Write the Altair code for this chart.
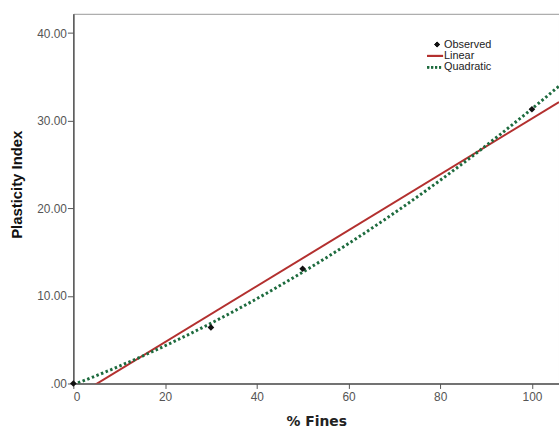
import altair as alt
import pandas as pd

fines = [0, 30, 50, 100]
pi = [0.0, 6.4, 13.1, 31.3]
legend_labels = ["Observed", "Linear", "Quadratic"]

df = pd.DataFrame({"fines": fines, "pi": pi})

X_DOM = [0, 105.9]
Y_DOM = [0, 42.2]

xs = alt.Scale(domain=X_DOM, nice=False, zero=False)
ys = alt.Scale(domain=Y_DOM, nice=False, zero=False)

xaxis = alt.Axis(values=[0, 20, 40, 60, 80, 100], title="% Fines", grid=False,
                 labelFont="Liberation Sans", labelFontSize=12, labelColor="#555",
                 titleFont="DejaVu Sans", titleFontSize=14, titleFontWeight="bold",
                 titleColor="#222", titleY=42, titleBaseline="alphabetic",
                 domainColor="#555", domainWidth=1.5,
                 tickColor="#555", tickSize=5, labelPadding=3)
yaxis = alt.Axis(values=[0, 10, 20, 30, 40], title="Plasticity Index", grid=False,
                 labelExpr="datum.value == 0 ? '.00' : format(datum.value, '.2f')",
                 labelFont="Liberation Sans", labelFontSize=12, labelColor="#555",
                 titleFont="Liberation Sans", titleFontSize=15, titleFontWeight="bold",
                 titleColor="#111", titleX=-52, titleY=172, titleAngle=-90,
                 titleBaseline="alphabetic",
                 domainColor="#555", domainWidth=1.5, tickColor="#555", tickSize=6,
                 labelPadding=1)

base = alt.Chart(df)

linear = base.transform_regression("fines", "pi", method="linear", extent=X_DOM).mark_line(
    color="#b3302f", strokeWidth=2, clip=True
).encode(x=alt.X("fines:Q", scale=xs, axis=xaxis), y=alt.Y("pi:Q", scale=ys, axis=yaxis))

quad = base.transform_regression("fines", "pi", method="poly", order=2, extent=X_DOM).mark_line(
    color="#1d6b3e", strokeWidth=3, strokeDash=[2.5, 2.5], clip=True
).encode(x=alt.X("fines:Q", scale=xs), y=alt.Y("pi:Q", scale=ys))

pts = base.mark_point(shape="diamond", filled=True, color="#111", size=45, opacity=1).encode(
    x=alt.X("fines:Q", scale=xs), y=alt.Y("pi:Q", scale=ys)
)

leg_df = pd.DataFrame({"label": legend_labels})
leg_text = alt.Chart(leg_df).transform_window(i="row_number()").transform_calculate(
    ly="19.5 + datum.i * 11.5"
).mark_text(
    align="left", baseline="middle", font="Liberation Sans", fontSize=11, color="#222"
).encode(x=alt.value(374), y=alt.Y("ly:Q", scale=None, axis=None), text="label:N")

leg_pt = alt.Chart(leg_df).mark_point(shape="diamond", filled=True, color="#111", size=32, opacity=1).encode(
    x=alt.value(367), y=alt.value(31))
leg_lin = alt.Chart(leg_df).mark_rule(color="#b3302f", strokeWidth=2).encode(
    x=alt.value(357), x2=alt.value(373), y=alt.value(42.5))
leg_quad = alt.Chart(leg_df).mark_rule(color="#1d6b3e", strokeWidth=2.5, strokeDash=[2, 2]).encode(
    x=alt.value(357), x2=alt.value(373), y=alt.value(54))

chart = alt.layer(linear, quad, pts, leg_lin, leg_quad, leg_pt, leg_text).properties(
    width=490, height=373,
    autosize=alt.AutoSizeParams(type="none"),
    padding={"left": 74, "top": 12, "right": 0, "bottom": 47},
    background="white",
).configure_view(stroke="#999", strokeWidth=1)

chart.save("out.html", embed_options={"renderer": "svg", "actions": False})
